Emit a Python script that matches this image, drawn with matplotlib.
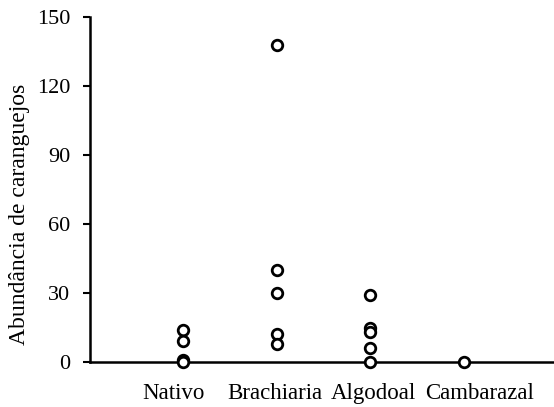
import numpy as np
import matplotlib.pyplot as plt

plt.rcParams['font.family'] = ['Liberation Serif', 'DejaVu Serif']

# data
habitats = ["Nativo", "Brachiaria", "Algodoal", "Cambarazal"]
nativo = [14, 9, 1, 0]
brachiaria = [138, 40, 30, 12, 8]
algodoal = [29, 15, 13, 6, 0]
cambarazal = [0]
groups = [nativo, brachiaria, algodoal, cambarazal]

yticks = [0, 30, 60, 90, 120, 150]
# category labels in the original are spread a bit wider than the points
label_pos = [0.90, 1.98, 3.04, 4.17]

fig = plt.figure(figsize=(5.54, 4.07), dpi=100)
ax = fig.add_axes([89.5 / 554, 45 / 407, 5 * 93.5 / 554, 345 / 407])

for i, vals in enumerate(groups, start=1):
    ax.plot([i] * len(vals), vals, 'o', mfc='white', mec='black',
            ms=7.6, mew=2, clip_on=False, zorder=3)

ax.set_xlim(0, 5)
ax.set_ylim(0, 150)
ax.set_xticks(label_pos)
ax.set_xticklabels(habitats, fontsize=16.5)
ax.set_yticks(yticks)
ax.tick_params(axis='y', labelsize=16, length=5, width=1.5, direction='out', pad=8.8)
ax.tick_params(axis='x', length=0, pad=15)

for s in ['top', 'right']:
    ax.spines[s].set_visible(False)
for s in ['left', 'bottom']:
    ax.spines[s].set_linewidth(1.8)

ax.set_ylabel("Abundância de caranguejos", fontsize=17, va='center')
ax.yaxis.set_label_coords(-0.149, 0.429)

fig.savefig("out.png", dpi=100)
